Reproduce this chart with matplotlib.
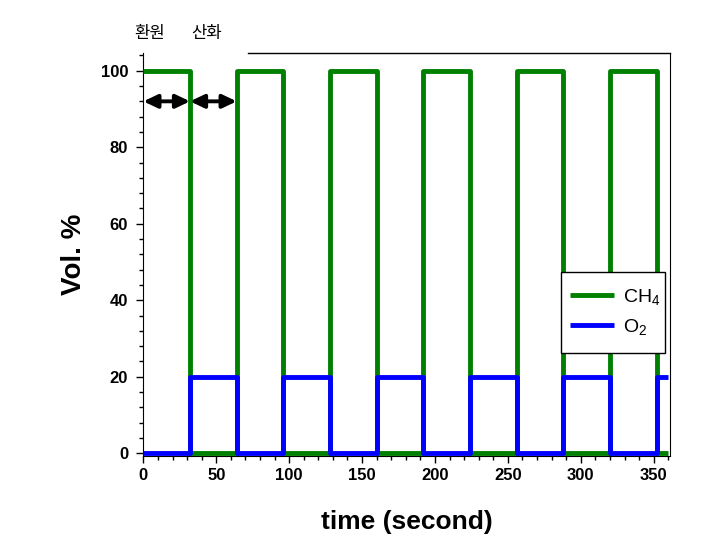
import matplotlib
matplotlib.use("Agg")
import matplotlib.pyplot as plt
from matplotlib.lines import Line2D
from matplotlib.patches import Rectangle
from matplotlib.ticker import MultipleLocator

plt.rcParams['font.family'] = ['Liberation Sans', 'DejaVu Sans']
plt.rcParams['mathtext.default'] = 'regular'

# Data
time = [0, 32, 64, 96, 128, 160, 192, 224, 256, 288, 320, 352, 360]
ch4 = [100, 0, 100, 0, 100, 0, 100, 0, 100, 0, 100, 0, 0]
o2 = [0, 20, 0, 20, 0, 20, 0, 20, 0, 20, 0, 20, 20]
x_ticks = [0, 50, 100, 150, 200, 250, 300, 350]
y_ticks = [0, 20, 40, 60, 80, 100]
phase_labels = ['환원', '산화']
phase_bounds = [0, 32, 64]

fig = plt.figure(figsize=(7.24, 5.44), dpi=100)
ax = fig.add_axes([0.198, 0.162, 0.727, 0.741])

ax.plot(time, ch4, drawstyle='steps-post', color='#008000', lw=3.5,
        solid_capstyle='butt', label='CH$_4$', zorder=3)
ax.plot(time, o2, drawstyle='steps-post', color='#0000FF', lw=3.5,
        solid_capstyle='butt', label='O$_2$', zorder=4)

# arrows
for a, b in zip(phase_bounds[:-1], phase_bounds[1:]):
    ax.annotate('', xy=(b, 92), xytext=(a, 92),
                arrowprops=dict(arrowstyle='<|-|>,head_length=0.42,head_width=0.2',
                                color='black', lw=2.8,
                                mutation_scale=20, shrinkA=0, shrinkB=0),
                zorder=5)

ax.set_xlim(0, 361)
ax.set_ylim(-0.7, 104.7)
ax.set_xticks(x_ticks)
ax.set_yticks(y_ticks)
ax.xaxis.set_minor_locator(MultipleLocator(10))
ax.yaxis.set_minor_locator(MultipleLocator(4))
ax.tick_params(axis='both', which='major', direction='out', length=5, width=1,
               labelsize=12)
ax.tick_params(axis='both', which='minor', direction='out', length=3, width=1)
ax.tick_params(axis='x', pad=4)
ax.tick_params(axis='y', pad=6)
for lab in ax.get_xticklabels() + ax.get_yticklabels():
    lab.set_fontweight('bold')

ax.spines['top'].set_visible(False)
ax.add_line(Line2D([0.199, 1.0], [1.0, 1.0], transform=ax.transAxes,
                   color='black', lw=1, clip_on=False))

ax.set_xlabel('time (second)', fontsize=19, fontweight='bold', labelpad=19)
ax.set_ylabel('Vol. %', fontsize=20, fontweight='bold', labelpad=10)

# phase labels above
kfam = ['Noto Sans CJK KR', 'DejaVu Sans']
ax.text(4.6, 1.047, phase_labels[0], transform=ax.get_xaxis_transform(),
        ha='center', va='center', fontsize=12, family=kfam)
ax.text(43.3, 1.047, phase_labels[1], transform=ax.get_xaxis_transform(),
        ha='center', va='center', fontsize=12, family=kfam)

# legend (frame drawn separately)
ax.add_patch(Rectangle((0.794, 0.255), 0.198, 0.201, transform=ax.transAxes,
                       facecolor='white', edgecolor='black', lw=1, zorder=6))
leg = ax.legend(loc='center left', bbox_to_anchor=(0.810, 0.357), fontsize=14,
                frameon=False, handlelength=2.3, handletextpad=0.45,
                borderpad=0, labelspacing=0.5, borderaxespad=0)
leg.set_zorder(7)

fig.savefig('out.png', dpi=100)
